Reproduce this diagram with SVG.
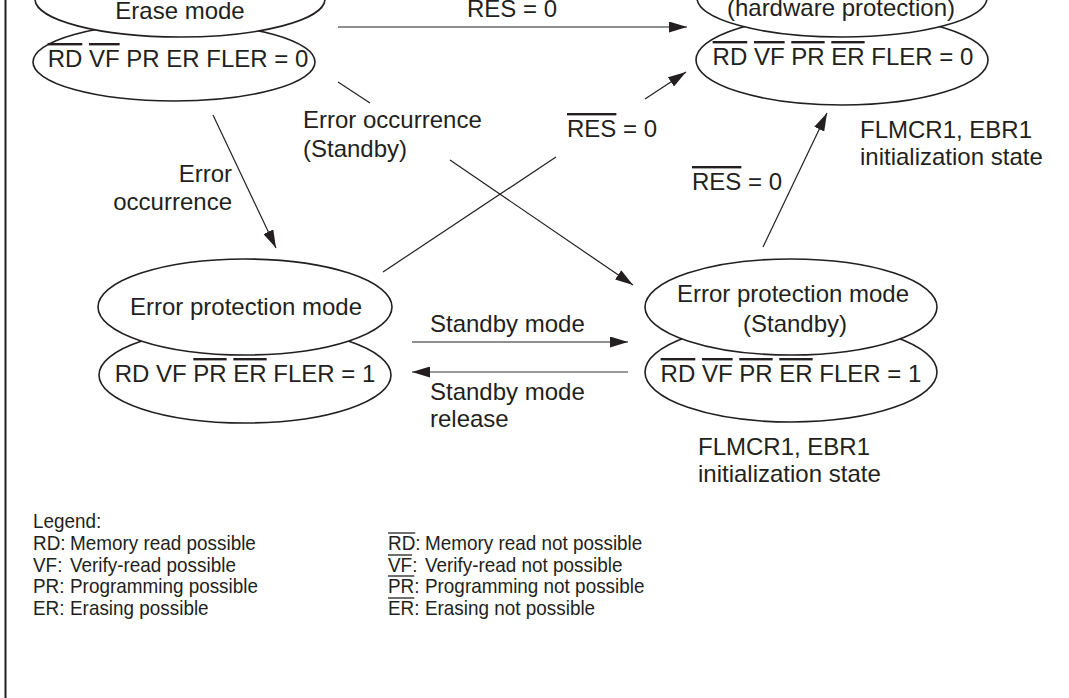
<svg xmlns="http://www.w3.org/2000/svg" width="1069" height="698" viewBox="0 0 1069 698">
<style>
text{font-family:"Liberation Sans",Arial,sans-serif;font-size:24px;fill:#231f20}
.lg text{font-size:21px}
.ov{text-decoration:overline}
.e{fill:#fff;stroke:#231f20;stroke-width:1.6}
.c{stroke:#231f20;stroke-width:1.2;fill:none}
.g{stroke:#777;stroke-width:1.4;fill:none}
.ol{stroke:#231f20;stroke-width:1.3}
</style>
<defs>
<marker id="ah" markerUnits="userSpaceOnUse" markerWidth="18" markerHeight="11" refX="18" refY="5.5" orient="auto">
<path d="M0,0 L18,5.5 L0,11 z" fill="#231f20"/>
</marker>
</defs>
<rect width="1069" height="698" fill="#fff"/>
<line x1="5.5" y1="0" x2="5.5" y2="698" stroke="#231f20" stroke-width="2"/>

<g id="connectors">
<line class="c" x1="338" y1="27" x2="687" y2="27" marker-end="url(#ah)"/>
<line class="c" x1="213" y1="115" x2="276" y2="248" marker-end="url(#ah)"/>
<line class="c" x1="338" y1="82" x2="370" y2="103"/>
<line class="c" x1="450" y1="160" x2="633" y2="285" marker-end="url(#ah)"/>
<line class="c" x1="383" y1="272" x2="556" y2="157"/>
<line class="c" x1="645" y1="99" x2="686" y2="72" marker-end="url(#ah)"/>
<line class="c" x1="763" y1="247" x2="827" y2="113" marker-end="url(#ah)"/>
<line class="c" x1="412" y1="342" x2="628" y2="342" marker-end="url(#ah)"/>
<line class="g" x1="628" y1="372" x2="412" y2="372" marker-end="url(#ah)"/>
<text x="512" y="17" text-anchor="middle">RES = 0</text>
<text x="303" y="128">Error occurrence</text>
<text x="303" y="157">(Standby)</text>
<text x="567" y="137"><tspan class="ov">RES</tspan> = 0</text>
<text x="232" y="182" text-anchor="end">Error</text>
<text x="232" y="210" text-anchor="end">occurrence</text>
<text x="692" y="190"><tspan class="ov">RES</tspan> = 0</text>
<text x="430" y="332">Standby mode</text>
<text x="430" y="400">Standby mode</text>
<text x="430" y="427">release</text>
</g>

<g id="erase-mode">
<ellipse class="e" cx="174" cy="62" rx="141" ry="39"/>
<ellipse class="e" cx="180" cy="-1" rx="145" ry="38"/>
<text x="180" y="18.5" text-anchor="middle">Erase mode</text>
<text x="178" y="67" text-anchor="middle"><tspan class="ov">RD</tspan> <tspan class="ov">VF</tspan> PR ER FLER = 0</text>
</g>

<g id="hardware-protection">
<ellipse class="e" cx="842" cy="60" rx="146" ry="45"/>
<ellipse class="e" cx="842" cy="-2" rx="145" ry="39"/>
<text x="841" y="16" text-anchor="middle">(hardware protection)</text>
<text x="843" y="65" text-anchor="middle"><tspan class="ov">RD</tspan> <tspan class="ov">VF</tspan> <tspan class="ov">PR</tspan> <tspan class="ov">ER</tspan> FLER = 0</text>
<text x="860" y="138">FLMCR1, EBR1</text>
<text x="860" y="165">initialization state</text>
</g>

<g id="error-protection">
<ellipse class="e" cx="245" cy="375" rx="146" ry="48"/>
<ellipse class="e" cx="245" cy="307" rx="147" ry="48"/>
<text x="246" y="315" text-anchor="middle">Error protection mode</text>
<text x="245" y="382" text-anchor="middle">RD VF <tspan class="ov">PR</tspan> <tspan class="ov">ER</tspan> FLER = 1</text>
</g>

<g id="error-protection-standby">
<ellipse class="e" cx="791" cy="372" rx="146" ry="50"/>
<ellipse class="e" cx="791" cy="307" rx="146" ry="48"/>
<text x="793" y="302" text-anchor="middle">Error protection mode</text>
<text x="795" y="332" text-anchor="middle">(Standby)</text>
<text x="791" y="382" text-anchor="middle"><tspan class="ov">RD</tspan> <tspan class="ov">VF</tspan> <tspan class="ov">PR</tspan> <tspan class="ov">ER</tspan> FLER = 1</text>
<text x="698" y="455">FLMCR1, EBR1</text>
<text x="698" y="482">initialization state</text>
</g>

<g id="legend" class="lg" transform="scale(0.9,1)">
<text x="36.7" y="528">Legend:</text>
<text x="36.7" y="550">RD:</text><text x="77.8" y="550">Memory read possible</text>
<text x="36.7" y="572">VF:</text><text x="77.8" y="572">Verify-read possible</text>
<text x="36.7" y="593">PR:</text><text x="77.8" y="593">Programming possible</text>
<text x="36.7" y="615">ER:</text><text x="77.8" y="615">Erasing possible</text>
<text x="431.1" y="550">RD:</text><text x="472.2" y="550">Memory read not possible</text>
<text x="431.1" y="572">VF:</text><text x="472.2" y="572">Verify-read not possible</text>
<text x="431.1" y="593">PR:</text><text x="472.2" y="593">Programming not possible</text>
<text x="431.1" y="615">ER:</text><text x="472.2" y="615">Erasing not possible</text>
<line class="ol" x1="431.1" y1="533" x2="461.4" y2="533"/>
<line class="ol" x1="431.1" y1="555" x2="457.9" y2="555"/>
<line class="ol" x1="431.1" y1="576" x2="460.3" y2="576"/>
<line class="ol" x1="431.1" y1="598" x2="460.3" y2="598"/>
</g>
</svg>
